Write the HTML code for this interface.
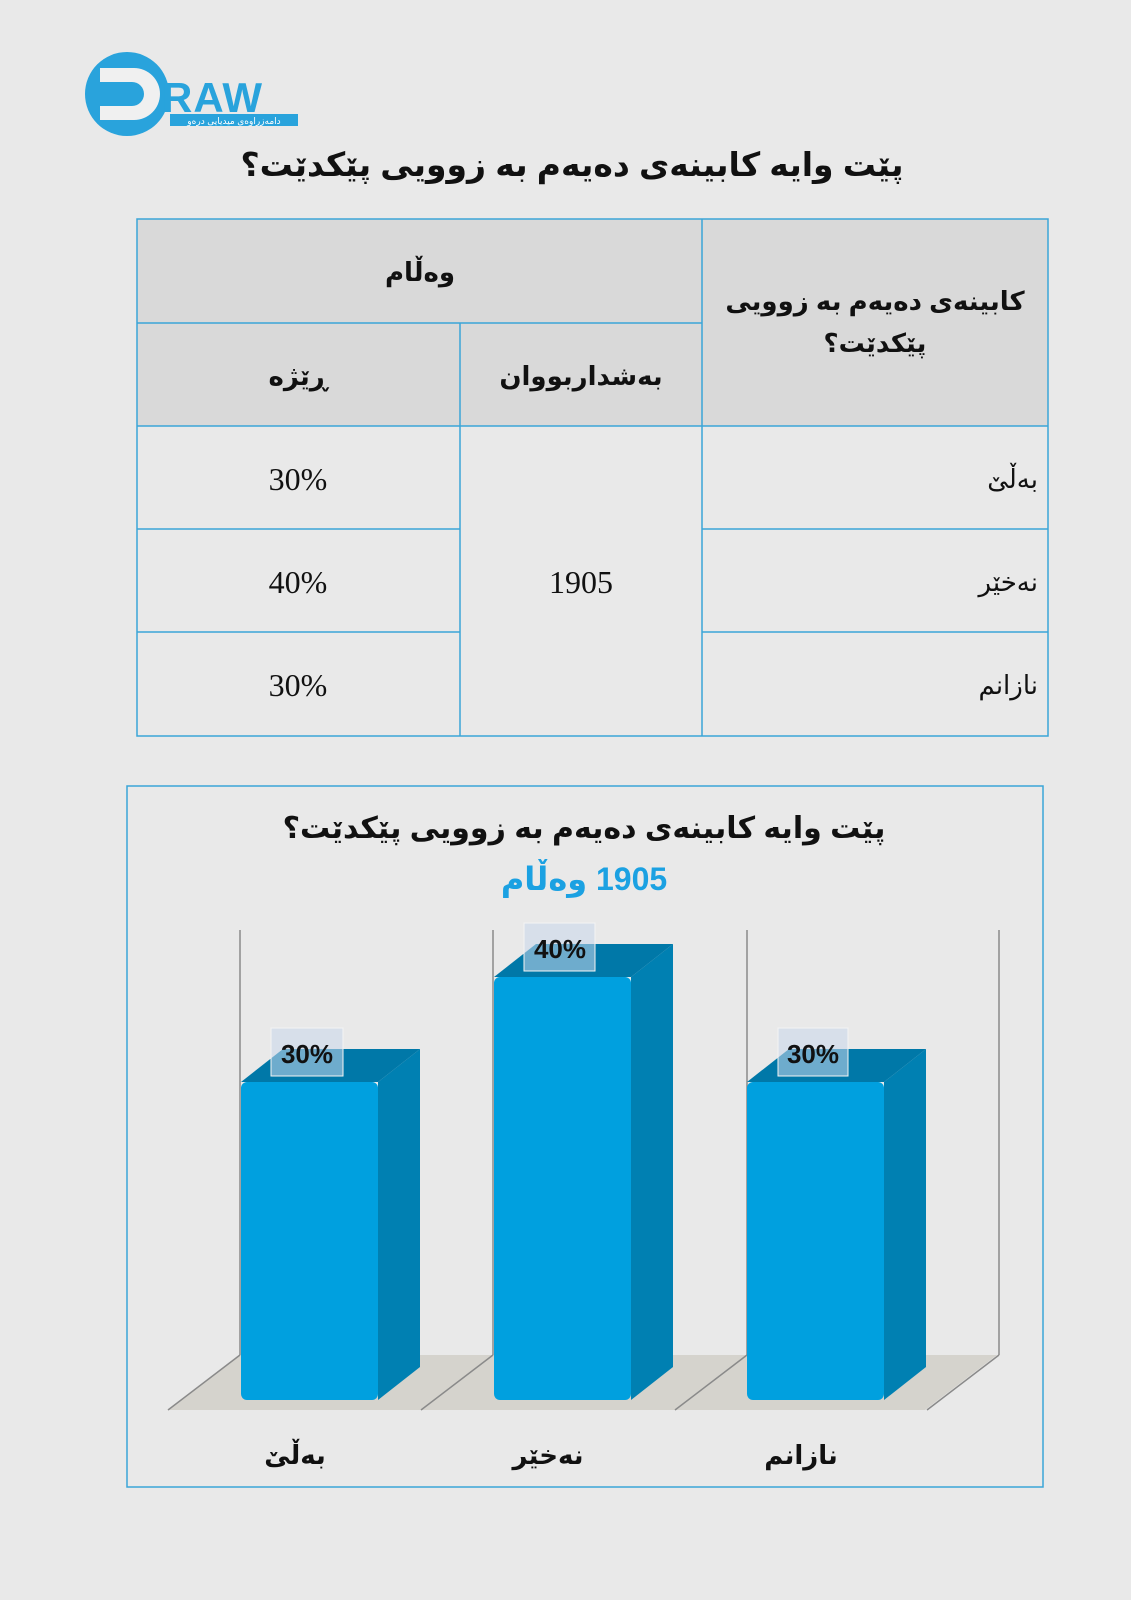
<!DOCTYPE html>
<html><head><meta charset="utf-8"><style>
html,body{margin:0;padding:0;background:#e9e9e9;}
svg{display:block;}
text{font-family:"Liberation Sans","DejaVu Sans",sans-serif;}
</style></head><body>
<svg width="1131" height="1600" viewBox="0 0 1131 1600" xmlns="http://www.w3.org/2000/svg">
<rect width="1131" height="1600" fill="#e9e9e9"/>
<!-- logo -->
<circle cx="127" cy="94" r="42" fill="#29a3dc"/>
<path d="M100 68 h34 a26 26 0 0 1 0 52 h-34 v-14 h32 a12 12 0 0 0 0 -24 h-32z" fill="#f0f0f0"/>
<text x="162" y="112" font-size="42" font-weight="bold" fill="#29a3dc" letter-spacing="1">RAW</text>
<rect x="170" y="114" width="128" height="12" fill="#29a3dc"/>
<text x="234" y="124" font-size="9" fill="#fff" text-anchor="middle" direction="rtl">دامەزراوەی میدیایی درەو</text>
<!-- title -->
<text x="572" y="176" font-size="33" font-weight="bold" fill="#111" text-anchor="middle" direction="rtl">پێت وایە کابینەی دەیەم بە زوویی پێکدێت؟</text>
<!-- table -->
<rect x="137" y="219" width="911" height="207" fill="#d9d9d9"/>
<rect x="137" y="426" width="911" height="310" fill="#e9e9e9"/>
<g stroke="#3aa6d8" stroke-width="1.5" fill="none">
<rect x="137" y="219" width="911" height="517"/>
<line x1="702" y1="219" x2="702" y2="736"/>
<line x1="460" y1="323" x2="460" y2="736"/>
<line x1="137" y1="323" x2="702" y2="323"/>
<line x1="137" y1="426" x2="1048" y2="426"/>
<line x1="137" y1="529" x2="460" y2="529"/>
<line x1="702" y1="529" x2="1048" y2="529"/>
<line x1="137" y1="632" x2="460" y2="632"/>
<line x1="702" y1="632" x2="1048" y2="632"/>
</g>
<g font-size="26" font-weight="bold" fill="#111" text-anchor="middle" direction="rtl">
<text x="420" y="281">وەڵام</text>
<text x="298" y="385">ڕێژە</text>
<text x="581" y="385">بەشداربووان</text>
<text x="875" y="310">کابینەی دەیەم بە زوویی</text>
<text x="875" y="352">پێکدێت؟</text>
</g>
<g font-size="32" fill="#111" text-anchor="middle">
<text x="298" y="490" style="font-family:'Liberation Serif',serif">30%</text>
<text x="298" y="593" style="font-family:'Liberation Serif',serif">40%</text>
<text x="298" y="696" style="font-family:'Liberation Serif',serif">30%</text>
<text x="581" y="593" style="font-family:'Liberation Serif',serif">1905</text>
</g>
<g font-size="26" fill="#111" text-anchor="start" direction="rtl">
<text x="1038" y="488">بەڵێ</text>
<text x="1038" y="591">نەخێر</text>
<text x="1038" y="694">نازانم</text>
</g>
<!-- chart frame -->
<rect x="127" y="786" width="916" height="701" fill="#e9e9e9" stroke="#3aa6d8" stroke-width="1.5"/>
<text x="584" y="838" font-size="30" font-weight="bold" fill="#111" text-anchor="middle" direction="rtl">پێت وایە کابینەی دەیەم بە زوویی پێکدێت؟</text>
<text x="584" y="890" font-size="32" font-weight="bold" fill="#1ba1e2" text-anchor="middle" direction="rtl">1905 وەڵام</text>
<!-- floor -->
<polygon points="168,1410 240,1355 997,1355 925,1410" fill="#d5d3cd"/>
<g stroke="#8a8a8a" stroke-width="1.5">
<line x1="240" y1="930" x2="240" y2="1355"/>
<line x1="493" y1="930" x2="493" y2="1355"/>
<line x1="747" y1="930" x2="747" y2="1355"/>
<line x1="999" y1="930" x2="999" y2="1355"/>
<line x1="240" y1="1355" x2="168" y2="1410"/>
<line x1="493" y1="1355" x2="421" y2="1410"/>
<line x1="747" y1="1355" x2="675" y2="1410"/>
<line x1="999" y1="1355" x2="927" y2="1410"/>
</g>
<!-- bars -->
<g>
<polygon points="378,1082 420,1049 420,1367 378,1400" fill="#0080b2"/>
<polygon points="241,1082 283,1049 420,1049 378,1082" fill="#0078a8"/>
<rect x="241" y="1082" width="137" height="318" rx="6" fill="#00a0df"/>
<polygon points="631,977 673,944 673,1367 631,1400" fill="#0080b2"/>
<polygon points="494,977 536,944 673,944 631,977" fill="#0078a8"/>
<rect x="494" y="977" width="137" height="423" rx="6" fill="#00a0df"/>
<polygon points="884,1082 926,1049 926,1367 884,1400" fill="#0080b2"/>
<polygon points="747,1082 789,1049 926,1049 884,1082" fill="#0078a8"/>
<rect x="747" y="1082" width="137" height="318" rx="6" fill="#00a0df"/>
</g>
<!-- labels -->
<g fill="rgba(200,215,235,0.55)" stroke="#f4f4f4" stroke-width="1">
<rect x="271" y="1028" width="72" height="48"/>
<rect x="524" y="923" width="71" height="48"/>
<rect x="778" y="1028" width="70" height="48"/>
</g>
<g font-size="26" font-weight="bold" fill="#111" text-anchor="middle">
<text x="307" y="1063">30%</text>
<text x="560" y="958">40%</text>
<text x="813" y="1063">30%</text>
</g>
<g font-size="26" font-weight="bold" fill="#111" text-anchor="middle" direction="rtl">
<text x="295" y="1464">بەڵێ</text>
<text x="548" y="1464">نەخێر</text>
<text x="801" y="1464">نازانم</text>
</g>
</svg>
</body></html>
